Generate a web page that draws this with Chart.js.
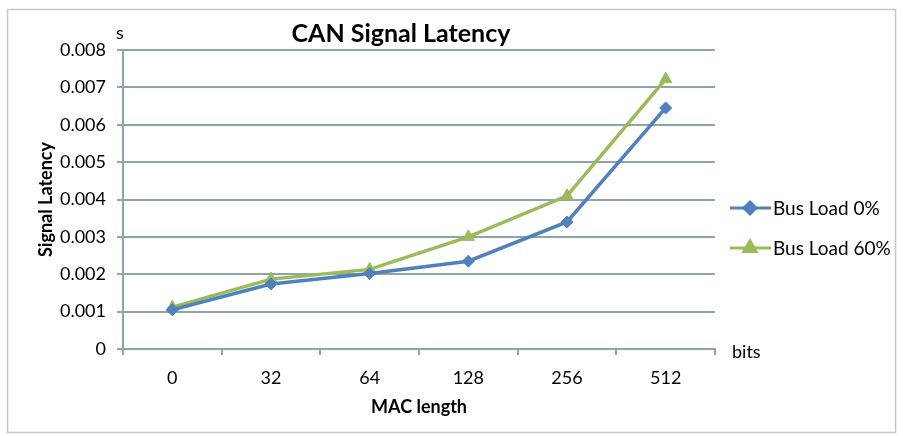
<!DOCTYPE html>
<html>
<head>
<meta charset="utf-8">
<style>
  html, body { margin: 0; padding: 0; background: #fff; }
  #wrap { width: 903px; height: 436px; }
</style>
<script src="https://cdn.jsdelivr.net/npm/chart.js@4/dist/chart.umd.min.js"></script>
</head>
<body>
<div id="wrap"><canvas id="latency" width="903" height="436"></canvas></div>
<script>
const macLengths = ['0', '32', '64', '128', '256', '512'];
const busLoad0 = [0.00105, 0.00174, 0.00202, 0.00235, 0.0034, 0.00645];
const busLoad60 = [0.00112, 0.00187, 0.00213, 0.00300, 0.0041, 0.00722];
const yTicks = [0, 0.001, 0.002, 0.003, 0.004, 0.005, 0.006, 0.007, 0.008];

const FONT = 'Lato, "Open Sans", sans-serif';
const BLUE = '#4f81bd';
const GREEN = '#9bbb59';
const GRID = '#8fa3ad';

// frame, unit labels, chart title and the line+marker legend
const extras = {
  id: 'extras',
  afterDraw(chart) {
    const ctx = chart.ctx;
    ctx.save();
    ctx.strokeStyle = '#c3c9cc';
    ctx.lineWidth = 1.5;
    ctx.strokeRect(7.5, 9.5, 888, 423);

    ctx.fillStyle = '#000';
    ctx.font = 'bold 25px ' + FONT;
    ctx.textAlign = 'center';
    ctx.textBaseline = 'middle';
    ctx.fillText('CAN Signal Latency', 401, 34);

    ctx.font = '18px ' + FONT;
    ctx.textAlign = 'left';
    ctx.fillText('s', 116, 33);
    ctx.fillText('bits', 732, 352);

    const items = [
      { text: 'Bus Load 0%', color: BLUE, style: 'rectRot', r: 6, y: 208 },
      { text: 'Bus Load 60%', color: GREEN, style: 'triangle', r: 7, y: 248 }
    ];
    items.forEach(it => {
      ctx.strokeStyle = it.color;
      ctx.lineWidth = 3;
      ctx.beginPath();
      ctx.moveTo(730, it.y);
      ctx.lineTo(771, it.y);
      ctx.stroke();
      ctx.fillStyle = it.color;
      Chart.helpers.drawPoint(ctx, { pointStyle: it.style, radius: it.r, borderWidth: 1 }, 750, it.y);
      ctx.fillStyle = '#000';
      ctx.font = '19px ' + FONT;
      ctx.textAlign = 'left';
      ctx.fillText(it.text, 773, it.y + 1);
    });
    ctx.restore();
  }
};

new Chart(document.getElementById('latency'), {
  type: 'line',
  data: {
    labels: macLengths,
    datasets: [
      {
        label: 'Bus Load 0%',
        data: busLoad0,
        borderColor: BLUE,
        backgroundColor: BLUE,
        borderWidth: 3.5,
        pointStyle: 'rectRot',
        pointRadius: 6,
        pointBorderWidth: 1,
        tension: 0
      },
      {
        label: 'Bus Load 60%',
        data: busLoad60,
        borderColor: GREEN,
        backgroundColor: GREEN,
        borderWidth: 3.5,
        pointStyle: 'triangle',
        pointRadius: 7,
        pointBorderWidth: 1,
        tension: 0
      }
    ]
  },
  options: {
    responsive: false,
    animation: false,
    events: [],
    layout: { padding: { left: 0, top: 50, right: 188, bottom: 0 } },
    plugins: {
      legend: { display: false },
      title: { display: false },
      tooltip: { enabled: false }
    },
    scales: {
      x: {
        offset: true,
        grid: {
          offset: true,
          drawOnChartArea: false,
          color: GRID,
          lineWidth: 2,
          tickLength: 6
        },
        border: { color: GRID, width: 2 },
        ticks: {
          color: '#000',
          font: { family: FONT, size: 18 },
          padding: 12,
          maxRotation: 0
        },
        title: {
          display: true,
          text: 'MAC length',
          color: '#000',
          font: { family: FONT, size: 18, weight: 'bold' },
          padding: { top: 0, bottom: 18 }
        },
        afterFit(scale) { scale.height = 436 - 349; }
      },
      y: {
        min: 0,
        max: 0.008,
        afterBuildTicks(scale) { scale.ticks = yTicks.map(v => ({ value: v })); },
        grid: { color: GRID, lineWidth: 2, tickLength: 6 },
        border: { color: GRID, width: 2 },
        ticks: {
          color: '#000',
          font: { family: FONT, size: 18 },
          padding: 11,
          callback: v => String(v)
        },
        title: {
          display: true,
          text: 'Signal Latency',
          color: '#000',
          font: { family: FONT, size: 18, weight: 'bold' },
          padding: { top: 35, bottom: 0 }
        },
        afterFit(scale) { scale.width = 123; }
      }
    }
  },
  plugins: [extras]
});
</script>
</body>
</html>
